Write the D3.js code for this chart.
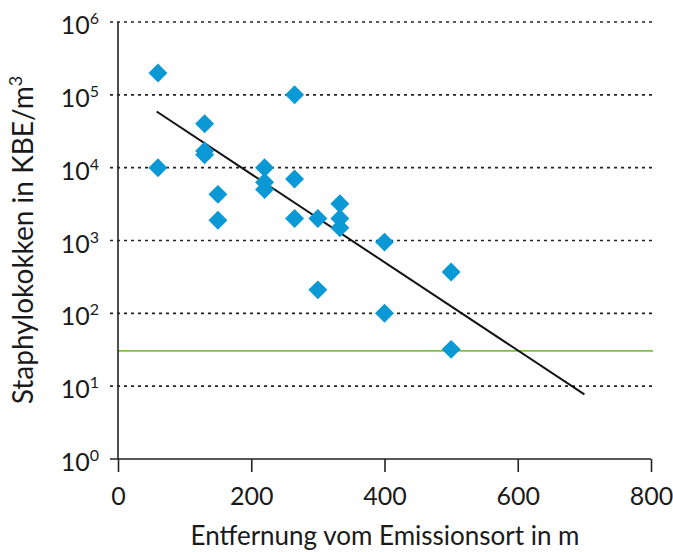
<!DOCTYPE html>
<html><head><meta charset="utf-8">
<script src="https://cdn.jsdelivr.net/npm/d3@7"></script>
<style>
html,body{margin:0;padding:0;background:#fff;}
text{font-family:Lato,"Open Sans",sans-serif;fill:#1a1a1a;}
</style></head>
<body><svg id="c" width="673" height="552"></svg>
<script>
// Data
const distances = [60, 60, 130, 130, 130, 150, 150, 220, 220, 220, 265, 265, 265, 300, 300, 333, 333, 333, 400, 400, 500, 500];
const counts    = [200000, 10000, 40000, 17000, 15000, 4300, 1900, 10000, 6300, 5000, 100000, 7000, 2000, 2000, 210, 3200, 2000, 1500, 950, 100, 370, 32];
const trendX = [58, 700];
const trendY = [59000, 7.7];
const limitValue = 30.5;
const xTicks = [0, 200, 400, 600, 800];
const yExponents = [0, 1, 2, 3, 4, 5, 6];
const xTitle = "Entfernung vom Emissionsort in m";
const yTitle = "Staphylokokken in KBE/m";

const svg = d3.select("#c");
const x = d3.scaleLinear().domain([0, 800]).range([118, 651]);
const y = d3.scaleLog().domain([1, 1e6]).range([459, 22]);

// gridlines (dashed) including tick stubs left of axis
svg.append("g").selectAll("line").data(yExponents.filter(e => e > 0)).join("line")
  .attr("x1", 110).attr("x2", 653)
  .attr("y1", e => y(Math.pow(10, e))).attr("y2", e => y(Math.pow(10, e)))
  .attr("stroke", "#222").attr("stroke-width", 1.6).attr("stroke-dasharray", "3,4");

// limit line
svg.append("line").attr("x1", 118).attr("x2", 653)
  .attr("y1", y(limitValue)).attr("y2", y(limitValue))
  .attr("stroke", "#7dbf45").attr("stroke-width", 1.8);

// axes
const xAxis = d3.axisBottom(x).tickValues(xTicks).tickSize(13).tickFormat("");
const gx = svg.append("g").attr("transform", `translate(0,${y(1)})`).call(xAxis);
gx.select(".domain").attr("d", `M110,0H651`);
gx.selectAll("path,line").attr("stroke", "#222").attr("stroke-width", 1.6);
gx.selectAll(".tick").append("text").attr("y", 46).attr("text-anchor", "middle")
  .style("font-size", "25px").text(d => d);

const gy = svg.append("g").attr("transform", `translate(118,0)`)
  .call(d3.axisLeft(y).tickValues([]).tickSize(0));
gy.select(".domain").attr("d", `M0,${y(1e6)}V${y(1)}`).attr("stroke", "#222").attr("stroke-width", 1.6);

// y tick labels 10^n
const yl = svg.append("g").selectAll("text").data(yExponents).join("text")
  .attr("x", 99).attr("y", e => y(Math.pow(10, e)) + 12).attr("text-anchor", "end")
  .style("font-size", "25px");
yl.append("tspan").text("10");
yl.append("tspan").attr("dy", -10).style("font-size", "16px").text(e => e);

// trend line
svg.append("path").datum(trendX.map((d, i) => [d, trendY[i]]))
  .attr("d", d3.line().x(d => x(d[0])).y(d => y(d[1])))
  .attr("stroke", "#111").attr("stroke-width", 2).attr("fill", "none");

// points (diamonds)
const sym = d3.symbol().type(d3.symbolSquare).size(180);
svg.append("g").selectAll("path").data(distances.map((d, i) => [d, counts[i]])).join("path")
  .attr("d", sym)
  .attr("transform", d => `translate(${x(d[0])},${y(d[1])}) rotate(45)`)
  .attr("fill", "#0a99d5");

// titles
svg.append("text").attr("x", 385).attr("y", 545).attr("text-anchor", "middle")
  .style("font-size", "26px").text(xTitle);
const yt = svg.append("text").attr("transform", "translate(33,240) rotate(-90)")
  .attr("text-anchor", "middle").style("font-size", "28px");
yt.append("tspan").text(yTitle);
yt.append("tspan").attr("dy", -11).style("font-size", "18px").text("3");
</script></body></html>
